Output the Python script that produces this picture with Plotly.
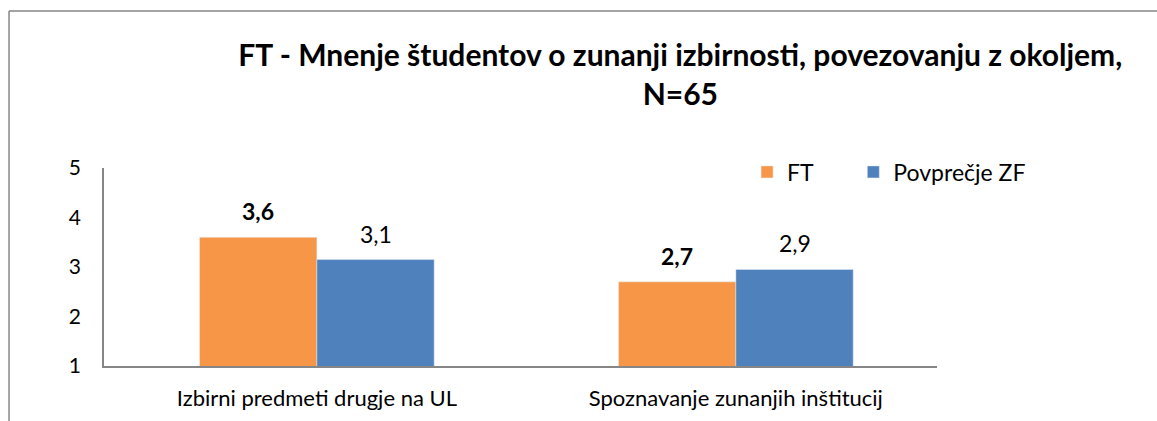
import plotly.graph_objects as go

categories = ["Izbirni predmeti drugje na UL", "Spoznavanje zunanjih inštitucij"]
ft_values = [3.6, 2.7]
zf_values = [3.15, 2.95]
ft_labels = ["3,6", "2,7"]
zf_labels = ["3,1", "2,9"]
series_names = ["FT", "Povprečje ZF"]
y_ticks = [1, 2, 3, 4, 5]

ORANGE = "#F79646"
BLUE = "#4F81BD"
FONT = "Lato, Carlito, Calibri, sans-serif"
BARGAP = 0.44
PAD = "\u00a0" * 6  # extra spacing after first legend entry

fig = go.Figure()
fig.add_trace(go.Bar(x=categories, y=ft_values, name=series_names[0] + PAD, marker_color=ORANGE))
fig.add_trace(go.Bar(x=categories, y=zf_values, name=series_names[1], marker_color=BLUE))

w = (1 - BARGAP) / 2
for i in range(len(categories)):
    fig.add_annotation(x=i - w / 2, y=ft_values[i], xref="x", yref="y", text="<b>" + ft_labels[i] + "</b>",
                       showarrow=False, yanchor="bottom", yshift=10, font=dict(size=23, color="#000"))
    fig.add_annotation(x=i + w / 2, y=zf_values[i], xref="x", yref="y", text=zf_labels[i],
                       showarrow=False, yanchor="bottom", yshift=10, font=dict(size=23, color="#000"))

# outer chart frame (top and left edges; right/bottom fall outside the picture)
frame = dict(color="#868686", width=1.5)
fig.add_shape(type="line", xref="paper", yref="paper", x0=-0.114, x1=1.6, y0=1.793, y1=1.793, line=frame)
fig.add_shape(type="line", xref="paper", yref="paper", x0=-0.114, x1=-0.114, y0=-1.0, y1=1.793, line=frame)

fig.update_layout(
    width=1157, height=421,
    margin=dict(l=104, r=220, t=168, b=55, autoexpand=False),
    paper_bgcolor="white", plot_bgcolor="white",
    font=dict(family=FONT, size=20, color="#000"),
    barmode="group", bargap=BARGAP, bargroupgap=0,
    title=dict(text="<b>FT - Mnenje študentov o zunanji izbirnosti, povezovanju z okoljem,<br>N=65</b>",
               x=0.588, xanchor="center", xref="container",
               y=0.843, yanchor="middle", font=dict(size=30, family=FONT, color="#000")),
    legend=dict(orientation="h", x=0.772, y=0.98, xanchor="left", yanchor="middle",
                font=dict(size=23), bgcolor="rgba(0,0,0,0)", itemwidth=30,
                traceorder="normal"),
    showlegend=True,
)
fig.update_xaxes(range=[-0.508, 1.480], showline=True, linecolor="#868686", linewidth=1.5, automargin=False,
                 showgrid=False, ticks="", tickfont=dict(size=22), zeroline=False, ticklabelstandoff=12)
fig.update_yaxes(range=[1, 5], tickvals=y_ticks, showline=True, linecolor="#868686", linewidth=1.5,
                 automargin=False, showgrid=False, ticks="", tickfont=dict(size=21), zeroline=False,
                 ticklabelstandoff=17)

fig.write_html("out.html", config={"displayModeBar": False},
               post_script="document.body.style.margin='0';document.body.style.overflow='hidden';")
